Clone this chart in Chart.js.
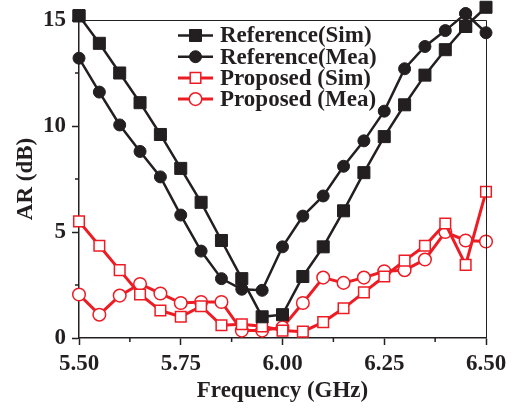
<!DOCTYPE html>
<html><head><meta charset="utf-8">
<script src="https://cdn.jsdelivr.net/npm/chart.js@4/dist/chart.umd.min.js"></script>
<style>html,body{margin:0;padding:0;background:#fff}#wrap{width:513px;height:408px}</style>
</head><body><div id="wrap"><canvas id="c" width="513" height="408"></canvas></div>
<script>
const freqGHz = [5.50,5.55,5.60,5.65,5.70,5.75,5.80,5.85,5.90,5.95,6.00,6.05,6.10,6.15,6.20,6.25,6.30,6.35,6.40,6.45,6.50];
const refSim  = [15.2,13.9,12.5,11.1,9.6,8.0,6.4,4.6,2.8,1.0,1.1,2.9,4.3,6.0,7.8,9.5,11.0,12.4,13.6,14.7,15.6];
const refMea  = [13.2,11.6,10.05,8.8,7.6,5.8,4.1,2.8,2.3,2.25,4.3,5.75,6.7,8.1,9.3,10.7,12.7,13.75,14.5,15.3,14.4];
const propSim = [5.5,4.35,3.2,2.05,1.3,1.0,1.5,0.6,0.65,0.55,0.35,0.3,0.75,1.4,2.15,2.9,3.65,4.35,5.4,3.45,6.9];
const propMea = [2.05,1.1,2.0,2.55,2.1,1.65,1.7,1.7,0.35,0.35,0.5,1.65,2.85,2.6,2.85,3.15,3.2,3.7,5.0,4.6,4.55];
const seriesLabels = ['Reference(Sim)','Reference(Mea)','Proposed (Sim)','Proposed (Mea)'];
const xMajor = [5.50,5.75,6.00,6.25,6.50];
const xMinor = [5.625,5.875,6.125,6.375];
const yMajor = [0,5,10,15];
const yMinor = [2.5,7.5,12.5];

const BLACK = '#231f20', RED = '#ed1c24';
const FONT = {family:'"Liberation Serif","Times New Roman",serif', size:23, weight:'bold'};
const pts = arr => arr.map((v,i)=>({x:freqGHz[i], y:v}));
const isMaj = (list,v) => list.some(m=>Math.abs(m-v)<1e-9);

const styles = [
  {borderColor:BLACK, backgroundColor:BLACK, pointStyle:'rect', pointRadius:8.5, borderWidth:2.5, pointBorderWidth:1},
  {borderColor:BLACK, backgroundColor:BLACK, pointStyle:'circle', pointRadius:6, borderWidth:2.5, pointBorderWidth:1},
  {borderColor:RED, backgroundColor:'#fff', pointStyle:'rect', pointRadius:7.5, borderWidth:3, pointBorderWidth:1.5},
  {borderColor:RED, backgroundColor:'#fff', pointStyle:'circle', pointRadius:6.3, borderWidth:3, pointBorderWidth:1.5}
];
const values = [refSim, refMea, propSim, propMea];

const datasets = values.map((v,i)=>Object.assign({
  label: seriesLabels[i], data: pts(v), tension:0, clip:false,
  pointHoverRadius: styles[i].pointRadius
}, styles[i]));

const frame = {
  id:'frame',
  afterDatasetsDraw(chart){
    // points that overflow the top edge are skipped by the library's area test; draw them with the full canvas as area
    const full = {left:0, top:0, right:chart.width, bottom:chart.height};
    const a = chart.chartArea;
    for (let i = chart.data.datasets.length-1; i>=0; i--){
      chart.getDatasetMeta(i).data.forEach(el=>{
        const r = el.options.radius + el.options.borderWidth;
        if (el.y < a.top + r) el.draw(chart.ctx, full);
      });
    }
  },
  afterDraw(chart){
    const {ctx, chartArea:a, scales} = chart;
    ctx.save();
    ctx.strokeStyle = BLACK; ctx.lineWidth = 1;
    ctx.beginPath();
    ctx.moveTo(a.left, a.top+0.5); ctx.lineTo(a.right+0.5, a.top+0.5); ctx.lineTo(a.right+0.5, a.bottom);
    ctx.stroke();
    ctx.lineWidth = 1.5;
    ctx.beginPath();
    xMinor.forEach(v=>{const px=scales.x.getPixelForValue(v); ctx.moveTo(px, a.bottom); ctx.lineTo(px, a.bottom+4);});
    yMinor.forEach(v=>{const py=scales.y.getPixelForValue(v); ctx.moveTo(a.left, py); ctx.lineTo(a.left-4, py);});
    ctx.stroke();
    const lx0 = 178, lx1 = 213, ly0 = 35.5, dy = 21.2, tx = 220;
    ctx.font = `bold ${FONT.size}px ${FONT.family}`;
    ctx.textBaseline = 'middle'; ctx.textAlign = 'left';
    chart.data.datasets.forEach((ds,i)=>{
      const y = ly0 + i*dy, cx = (lx0+lx1)/2;
      ctx.strokeStyle = ds.borderColor; ctx.lineWidth = ds.borderWidth;
      ctx.beginPath(); ctx.moveTo(lx0,y); ctx.lineTo(lx1,y); ctx.stroke();
      ctx.fillStyle = ds.backgroundColor; ctx.lineWidth = ds.pointBorderWidth;
      ctx.beginPath();
      if (ds.pointStyle==='rect'){ const s = ds.pointRadius*Math.SQRT1_2; ctx.rect(cx-s,y-s,2*s,2*s); }
      else { ctx.arc(cx,y,ds.pointRadius,0,Math.PI*2); }
      ctx.fill(); ctx.stroke();
      ctx.fillStyle = BLACK;
      ctx.fillText(ds.label, tx, y+1);
    });
    ctx.restore();
  }
};

new Chart(document.getElementById('c'), {
  type:'line',
  data:{datasets},
  options:{
    responsive:false, animation:false, devicePixelRatio:1,
    layout:{padding:{top:20,right:27,left:0,bottom:0}},
    plugins:{legend:{display:false}, tooltip:{enabled:false}},
    scales:{
      x:{type:'linear', min:5.5, max:6.5,
        afterBuildTicks:s=>{s.ticks=xMajor.concat(xMinor).sort((a,b)=>a-b).map(v=>({value:v}));},
        afterFit:s=>{s.height=70;},
        ticks:{autoSkip:false, maxRotation:0, padding:5, color:BLACK, font:FONT,
          callback:v=>isMaj(xMajor,v)?v.toFixed(2):''},
        grid:{drawOnChartArea:false, drawTicks:true, tickLength:7, tickWidth:1.5,
          tickColor:c=>isMaj(xMajor,c.tick.value)?BLACK:'rgba(0,0,0,0)'},
        border:{color:BLACK, width:1.5},
        title:{display:true, text:'Frequency (GHz)', color:BLACK, font:FONT, padding:{top:0,bottom:3}}
      },
      y:{min:0, max:15,
        afterBuildTicks:s=>{s.ticks=yMajor.concat(yMinor).sort((a,b)=>a-b).map(v=>({value:v}));},
        afterFit:s=>{s.width=79;},
        ticks:{autoSkip:false, padding:6, color:BLACK, font:FONT,
          callback:v=>isMaj(yMajor,v)?String(v):''},
        grid:{drawOnChartArea:false, drawTicks:true, tickLength:7, tickWidth:1.5,
          tickColor:c=>isMaj(yMajor,c.tick.value)?BLACK:'rgba(0,0,0,0)'},
        border:{color:BLACK, width:1.5},
        title:{display:true, text:'AR (dB)', color:BLACK, font:FONT, padding:{top:12,bottom:0}}
      }
    }
  },
  plugins:[frame]
});
</script></body></html>
